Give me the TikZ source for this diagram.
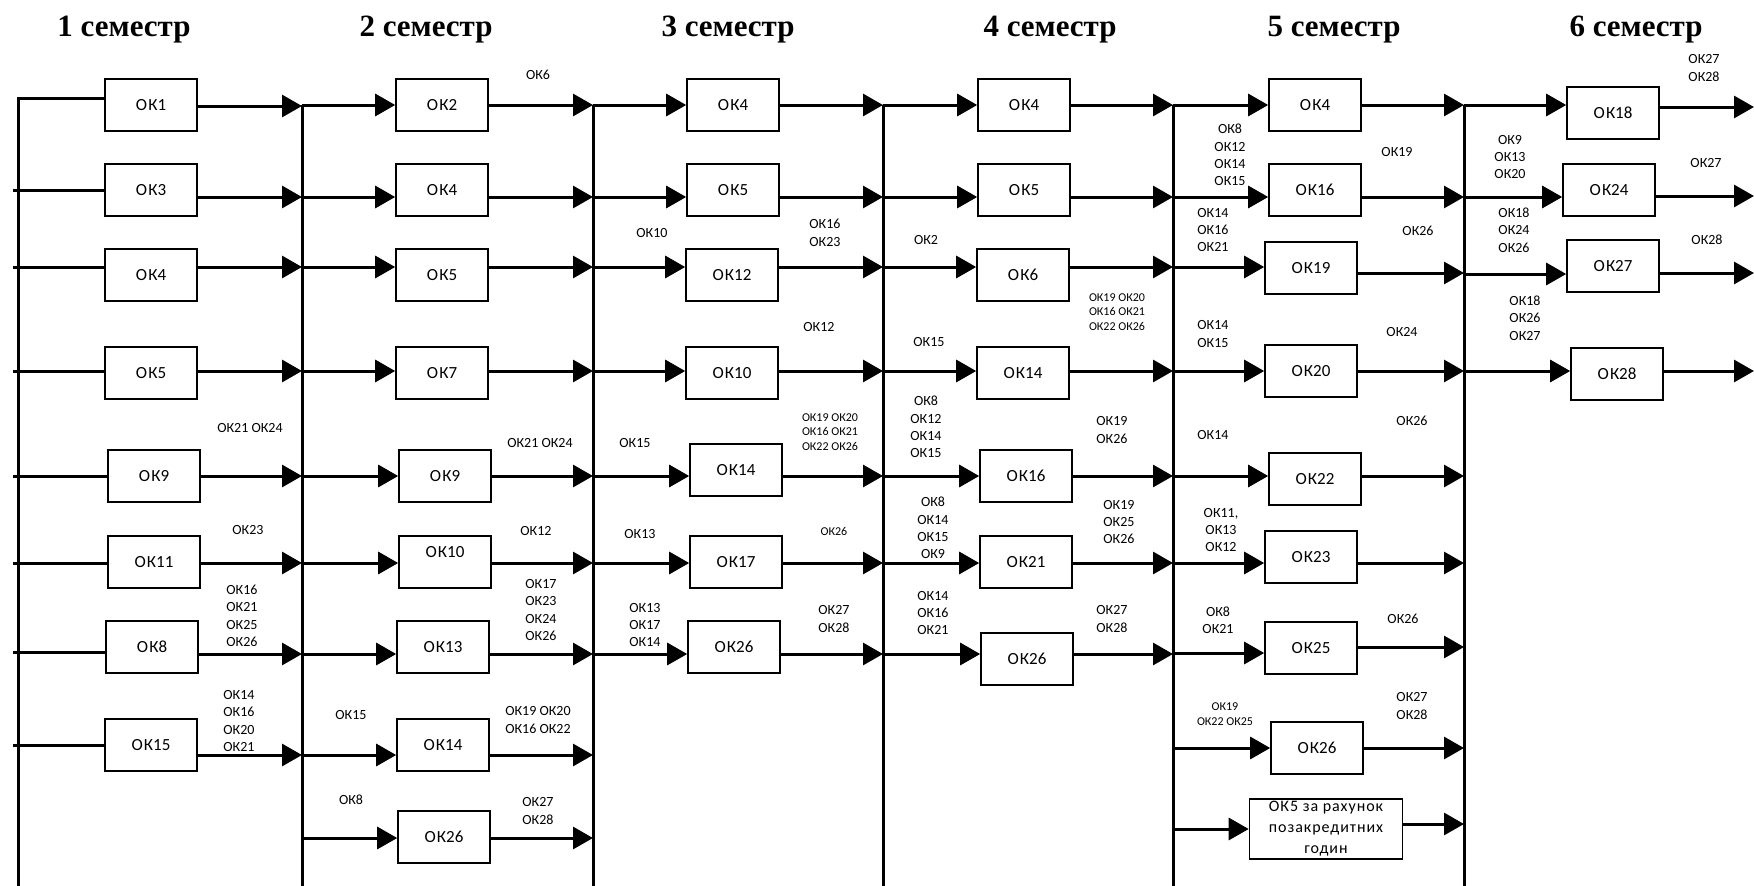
\documentclass[tikz,border=0pt]{standalone}
\usepackage{fontspec}
\setmainfont{Carlito}
\newfontfamily\hdrfont{Liberation Serif}
\newfontfamily\spacedfont[LetterSpace=6]{Carlito}
\usetikzlibrary{arrows.meta}
\newcommand{\okk}[1]{О\kern1.2ptК#1}
\begin{document}
\begin{tikzpicture}[x=1pt,y=-1pt,
  box/.style={draw, line width=1.6pt, minimum width=92pt, minimum height=52pt, inner sep=1pt, font=\fontsize{17}{20}\selectfont},
  lab/.style={inner sep=0pt, align=center, font=\fontsize{14}{17.4}\selectfont},
  labs/.style={inner sep=0pt, align=center, font=\fontsize{12}{14.5}\selectfont},
  ln/.style={line width=3pt},
  arr/.style={line width=3pt, -{Triangle[length=20pt,width=22pt]}},
  hd/.style={font=\hdrfont\bfseries\fontsize{31}{36}\selectfont, anchor=base, inner sep=0pt}]
\useasboundingbox (0,0) rectangle (1754,886);

% headers
\node[hd] (h1) at (124,36) {1 семестр};
\node[hd] (h2) at (426,36) {2 семестр};
\node[hd] (h3) at (728,36) {3 семестр};
\node[hd] (h4) at (1050,36) {4 семестр};
\node[hd] (h5) at (1334,36) {5 семестр};
\node[hd] (h6) at (1636,36) {6 семестр};

% bus coordinates
\coordinate (s1) at (13,0);
\coordinate (bus1) at (18,98);
\coordinate (bus2) at (302,105);
\coordinate (bus3) at (593,105);
\coordinate (bus4) at (883,105);
\coordinate (bus5) at (1173,105);
\coordinate (bus6) at (1464,105);
\coordinate (redge) at (1754,0);
\coordinate (bot) at (0,886);

% ---------- column 1 ----------
\node[box] (c1a) at (151,105) {\okk{1}};
\node[box] (c1b) at (151,190) {\okk{3}};
\node[box] (c1c) at (151,275) {\okk{4}};
\node[box] (c1d) at (151,373) {\okk{5}};
\node[box] (c1e) at (154,476) {\okk{9}};
\node[box] (c1f) at (154,562) {\okk{11}};
\node[box] (c1g) at (152,647) {\okk{8}};
\node[box] (c1h) at (151,745) {\okk{15}};

% ---------- column 2 ----------
\node[box] (c2a) at (442,105) {\okk{2}};
\node[box] (c2b) at (442,190) {\okk{4}};
\node[box] (c2c) at (442,275) {\okk{5}};
\node[box] (c2d) at (442,373) {\okk{7}};
\node[box] (c2e) at (445,476) {\okk{9}};
\node[box, align=center] (c2f) at (445,562) {\okk{10}\\\mbox{}};
\node[box] (c2g) at (443,647) {\okk{13}};
\node[box] (c2h) at (443,745) {\okk{14}};
\node[box] (c2i) at (444,837) {\okk{26}};

% ---------- column 3 ----------
\node[box] (c3a) at (733,105) {\okk{4}};
\node[box] (c3b) at (733,190) {\okk{5}};
\node[box] (c3c) at (732,275) {\okk{12}};
\node[box] (c3d) at (732,373) {\okk{10}};
\node[box] (c3e) at (736,470) {\okk{14}};
\node[box] (c3f) at (736,562) {\okk{17}};
\node[box] (c3g) at (734,647) {\okk{26}};

% ---------- column 4 ----------
\node[box] (c4a) at (1024,105) {\okk{4}};
\node[box] (c4b) at (1024,190) {\okk{5}};
\node[box] (c4c) at (1023,275) {\okk{6}};
\node[box] (c4d) at (1023,373) {\okk{14}};
\node[box] (c4e) at (1026,476) {\okk{16}};
\node[box] (c4f) at (1026,562) {\okk{21}};
\node[box] (c4g) at (1027,659) {\okk{26}};

% ---------- column 5 ----------
\node[box] (c5a) at (1315,105) {\okk{4}};
\node[box] (c5b) at (1315,190) {\okk{16}};
\node[box] (c5c) at (1311,268) {\okk{19}};
\node[box] (c5d) at (1311,371) {\okk{20}};
\node[box] (c5e) at (1315,479) {\okk{22}};
\node[box] (c5f) at (1311,557) {\okk{23}};
\node[box] (c5g) at (1311,648) {\okk{25}};
\node[box] (c5h) at (1317,748) {\okk{26}};
\node[box, minimum width=153pt, minimum height=60pt, align=center, font=\spacedfont\fontsize{16}{21}\selectfont] (c5i) at (1326,829) {ОК5 за рахунок\\позакредитних\\годин};

% ---------- column 6 ----------
\node[box] (c6a) at (1613,113) {\okk{18}};
\node[box] (c6b) at (1609,190) {\okk{24}};
\node[box] (c6c) at (1613,266) {\okk{27}};
\node[box] (c6d) at (1617,374) {\okk{28}};

% ---------- buses ----------
\draw[ln] (bus1 |- bot) -- (bus1) -- (c1a.west |- bus1);
\foreach \b in {bus2,bus3,bus4,bus5,bus6} \draw[ln] (\b) -- (\b |- bot);

% ---------- connectors ----------
\foreach \n/\y in {c1b/190,c1c/267,c1d/371,c1e/476,c1f/563,c1g/652,c1h/745}
  \draw[ln] (s1 |- 0,\y) -- (\n.west |- 0,\y);
\foreach \n/\y in {c1a/106,c1b/197,c1c/267,c1d/371,c1e/476,c1f/563,c1g/654,c1h/755}
  \draw[arr] (\n.east |- 0,\y) -- (bus2 |- 0,\y);

\foreach \n/\y in {c2a/105,c2b/197,c2c/267,c2d/371,c2e/476,c2f/563,c2g/654,c2h/755,c2i/838}{
  \draw[arr] (bus2 |- 0,\y) -- (\n.west |- 0,\y);
  \draw[arr] (\n.east |- 0,\y) -- (bus3 |- 0,\y);}

\foreach \n/\y in {c3a/105,c3b/197,c3c/267,c3d/371,c3e/476,c3f/563,c3g/654}{
  \draw[arr] (bus3 |- 0,\y) -- (\n.west |- 0,\y);
  \draw[arr] (\n.east |- 0,\y) -- (bus4 |- 0,\y);}

\foreach \n/\y in {c4a/105,c4b/197,c4c/267,c4d/371,c4e/476,c4f/563,c4g/654}{
  \draw[arr] (bus4 |- 0,\y) -- (\n.west |- 0,\y);
  \draw[arr] (\n.east |- 0,\y) -- (bus5 |- 0,\y);}

\foreach \n/\y in {c5a/105,c5b/197,c5c/267,c5d/371,c5e/476,c5f/563,c5g/653,c5h/748,c5i/829}
  \draw[arr] (bus5 |- 0,\y) -- (\n.west |- 0,\y);
\foreach \n/\y in {c5a/105,c5b/197,c5c/273,c5d/371,c5e/476,c5f/563,c5g/647,c5h/748,c5i/824}
  \draw[arr] (\n.east |- 0,\y) -- (bus6 |- 0,\y);

\foreach \n/\y in {c6a/105,c6b/197,c6c/274,c6d/371}
  \draw[arr] (bus6 |- 0,\y) -- (\n.west |- 0,\y);
\foreach \n/\y in {c6a/107,c6b/196,c6c/273,c6d/371}
  \draw[arr] (\n.east |- 0,\y) -- (redge |- 0,\y);

% ---------- labels ----------
% column 1
\node[lab] (l1a) at (250,428) {ОК21 ОК24};
\node[lab] (l1b) at (248,530) {ОК23};
\node[lab] (l1c) at (242,616) {ОК16\\ОК21\\ОК25\\ОК26};
\node[lab] (l1d) at (239,721) {ОК14\\ОК16\\ОК20\\ОК21};
% column 2
\node[lab] (l2a) at (538,75) {ОК6};
\node[lab] (l2b) at (540,443) {ОК21 ОК24};
\node[lab] (l2c) at (536,531) {ОК12};
\node[lab] (l2d) at (541,610) {ОК17\\ОК23\\ОК24\\ОК26};
\node[lab] (l2e) at (351,715) {ОК15};
\node[lab] (l2f) at (538,720) {ОК19 ОК20\\ОК16 ОК22};
\node[lab] (l2g) at (351,800) {ОК8};
\node[lab] (l2h) at (538,811) {ОК27\\ОК28};
% column 3
\node[lab] (l3a) at (652,233) {ОК10};
\node[lab] (l3b) at (825,233) {ОК16\\ОК23};
\node[lab] (l3c) at (819,327) {ОК12};
\node[lab] (l3d) at (635,443) {ОК15};
\node[labs] (l3e) at (830,432) {ОК19 ОК20\\ОК16 ОК21\\ОК22 ОК26};
\node[lab] (l3f) at (640,534) {ОК13};
\node[labs] (l3g) at (834,531) {ОК26};
\node[lab] (l3h) at (645,625) {ОК13\\ОК17\\ОК14};
\node[lab] (l3i) at (834,619) {ОК27\\ОК28};
% column 4
\node[lab] (l4a) at (926,240) {ОК2};
\node[labs] (l4b) at (1117,312) {ОК19 ОК20\\ОК16 ОК21\\ОК22 ОК26};
\node[lab] (l4c) at (929,342) {ОК15};
\node[lab] (l4d) at (926,427) {ОК8\\ОК12\\ОК14\\ОК15};
\node[lab] (l4e) at (1112,430) {ОК19\\ОК26};
\node[lab] (l4f) at (933,528) {ОК8\\ОК14\\ОК15\\ОК9};
\node[lab] (l4g) at (1119,522) {ОК19\\ОК25\\ОК26};
\node[lab] (l4h) at (933,613) {ОК14\\ОК16\\ОК21};
\node[lab] (l4i) at (1112,619) {ОК27\\ОК28};
% column 5
\node[lab] (l5a) at (1230,155) {ОК8\\ОК12\\ОК14\\ОК15};
\node[lab] (l5b) at (1397,152) {ОК19};
\node[lab] (l5c) at (1213,230) {ОК14\\ОК16\\ОК21};
\node[lab] (l5d) at (1418,231) {ОК26};
\node[lab] (l5e) at (1213,334) {ОК14\\ОК15};
\node[lab] (l5f) at (1402,332) {ОК24};
\node[lab] (l5g) at (1412,421) {ОК26};
\node[lab] (l5h) at (1213,435) {ОК14};
\node[lab] (l5i) at (1221,530) {ОК11,\\ОК13\\ОК12};
\node[lab] (l5j) at (1218,620) {ОК8\\ОК21};
\node[lab] (l5k) at (1403,619) {ОК26};
\node[labs] (l5l) at (1225,714) {ОК19\\ОК22 ОК25};
\node[lab] (l5m) at (1412,706) {ОК27\\ОК28};
% column 6
\node[lab] (l6a) at (1704,68) {ОК27\\ОК28};
\node[lab] (l6b) at (1510,157) {ОК9\\ОК13\\ОК20};
\node[lab] (l6c) at (1706,163) {ОК27};
\node[lab] (l6d) at (1514,230) {ОК18\\ОК24\\ОК26};
\node[lab] (l6e) at (1707,240) {ОК28};
\node[lab] (l6f) at (1525,318) {ОК18\\ОК26\\ОК27};
\end{tikzpicture}
\end{document}
